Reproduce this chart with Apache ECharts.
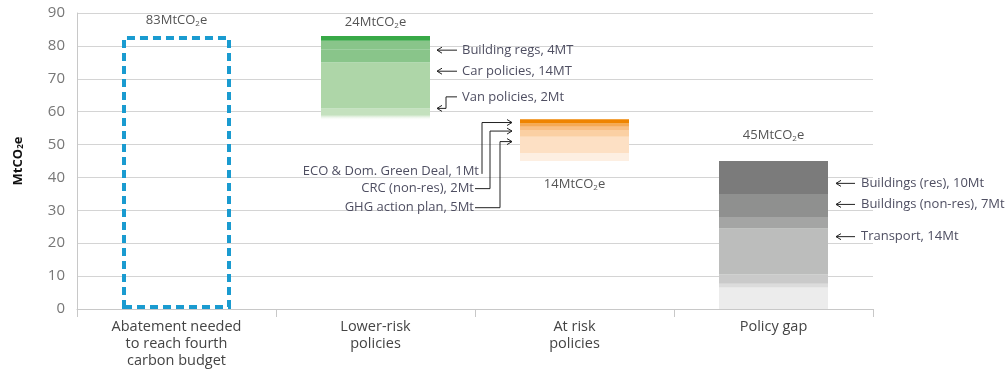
<!DOCTYPE html>
<html>
<head>
<meta charset="utf-8">
<script src="https://cdn.jsdelivr.net/npm/echarts@6/dist/echarts.min.js"></script>
<style>
  html, body { margin: 0; padding: 0; background: #fff; }
  #chart { width: 1008px; height: 370px; }
</style>
</head>
<body>
<div id="chart"></div>
<script>
// Columns along the bottom
const categories = [
  'Abatement needed\nto reach fourth\ncarbon budget',
  'Lower-risk\npolicies',
  'At risk\npolicies',
  'Policy gap'
];

// Value axis (MtCO2e)
const yMin = 0;
const yMax = 90;
const yStep = 10;

// Column totals printed beside each column (MtCO2e)
const totals = [83, 24, 14, 45];

// Abatement needed (outlined column)
const abatementNeeded = 83;

// Lower-risk policies: invisible base, then bands bottom to top
const lowerRiskBase = 57.3;
const lowerRiskBands = [1.7, 2, 14, 4, 2.6, 1.4];

// At-risk policies: invisible base, then bands bottom to top
const atRiskBase = 45;
const atRiskBands = [2.4, 5, 2, 1, 1, 1.3];

// Policy gap bands, bottom to top
const gapBands = [6.5, 1.2, 2.8, 14, 3.5, 7, 10];

// Callouts
const lowerRiskNotes = ['Building regs, 4MT', 'Car policies, 14MT', 'Van policies, 2Mt'];
const lowerRiskArrowAt = [78.7, 72.3, 61.0];
const lowerRiskTextAt = [78.7, 72.3, 64.5];

const atRiskNotes = ['ECO & Dom. Green Deal, 1Mt', 'CRC (non-res), 2Mt', 'GHG action plan, 5Mt'];
const atRiskArrowAt = [56.7, 54.1, 50.9];
const atRiskTextAt = [42.0, 36.6, 30.8];

const gapNotes = ['Buildings (res), 10Mt', 'Buildings (non-res), 7Mt', 'Transport, 14Mt'];
const gapArrowAt = [38.2, 31.8, 22.0];

// ---- styling ----
const FONT = '"Open Sans", "Noto Sans", sans-serif';
const BAR_W = 109;
const NOTE_COLOR = '#4f4f62';
const LINE_COLOR = '#222';

const greenColors = [
  { type: 'linear', x: 0, y: 0, x2: 0, y2: 1,
    colorStops: [{ offset: 0, color: '#c6e2c0' }, { offset: 1, color: 'rgba(255,255,255,0)' }] },
  '#c4e1be', '#aed6a8', '#89c58a', '#89c58a', '#38a947'
];
const orangeColors = ['#fdefe2', '#fde0c4', '#fbd0a3', '#f9bf84', '#f6a954', '#ef8400'];
const greyColors = ['#ececec', '#dcdcdc', '#cacaca', '#bcbdbc', '#a4a5a4', '#8f908f', '#7b7b7b'];

function only(idx, v) {
  const d = ['-', '-', '-', '-'];
  d[idx] = v;
  return d;
}

function totalLabel(v, position, distance) {
  return {
    show: true,
    position: position,
    distance: distance,
    formatter: '{t|' + v + 'MtCO}{s|2}{t|e}',
    rich: {
      t: { fontSize: 13, color: '#555', fontFamily: FONT },
      s: { fontSize: 8, color: '#555', fontFamily: FONT, padding: [7, 0, 0, 0] }
    }
  };
}

function band(idx, v, color, label) {
  const s = {
    type: 'bar',
    stack: 'col',
    barWidth: BAR_W,
    silent: true,
    data: only(idx, v),
    itemStyle: { color: color }
  };
  if (label) s.label = label;
  return s;
}

const series = [];

// Outlined column
series.push({
  type: 'bar',
  stack: 'col',
  barWidth: BAR_W,
  silent: true,
  data: only(0, abatementNeeded),
  itemStyle: {
    color: 'rgba(0,0,0,0)',
    borderColor: '#1a9bd0',
    borderWidth: 4,
    borderType: [8, 5]
  },
  label: totalLabel(totals[0], 'top', 8)
});

// Lower-risk column
series.push(band(1, lowerRiskBase, 'rgba(0,0,0,0)'));
lowerRiskBands.forEach((v, i) => {
  const last = i === lowerRiskBands.length - 1;
  series.push(band(1, v, greenColors[i], last ? totalLabel(totals[1], 'top', 6) : null));
});

// At-risk column
atRiskBands.forEach((v, i) => {
  if (i === 0) series.push(band(2, atRiskBase, 'rgba(0,0,0,0)'));
  series.push(band(2, v, orangeColors[i], i === 0 ? totalLabel(totals[2], 'bottom', 16) : null));
});

// Policy gap column
gapBands.forEach((v, i) => {
  const last = i === gapBands.length - 1;
  series.push(band(3, v, greyColors[i], last ? totalLabel(totals[3], 'top', 18) : null));
});

const chart = echarts.init(document.getElementById('chart'), null, { renderer: 'canvas' });

chart.setOption({
  animation: false,
  backgroundColor: '#fff',
  grid: { left: 77, right: 135, top: 13, bottom: 61 },
  xAxis: {
    type: 'category',
    data: categories,
    boundaryGap: true,
    axisLine: { lineStyle: { color: '#c8c8c8', width: 1 } },
    axisTick: { show: true, length: 8, lineStyle: { color: '#c8c8c8' } },
    axisLabel: {
      color: '#444', fontSize: 14.5, lineHeight: 17, margin: 9, fontFamily: FONT
    }
  },
  yAxis: {
    type: 'value',
    min: yMin,
    max: yMax,
    interval: yStep,
    name: '{t|MtCO}{s|2}{t|e}',
    nameLocation: 'middle',
    nameGap: 52,
    nameRotate: 90,
    nameTextStyle: {
      rich: {
        t: { fontSize: 13, fontWeight: 'bold', color: '#111', fontFamily: FONT },
        s: { fontSize: 8, fontWeight: 'bold', color: '#111', fontFamily: FONT, padding: [6, 0, 0, 0] }
      }
    },
    axisLine: { show: true, lineStyle: { color: '#c8c8c8' } },
    axisTick: { show: false },
    axisLabel: { color: '#777', fontSize: 15, margin: 12, fontFamily: FONT },
    splitLine: { lineStyle: { color: '#d4d4d4', width: 1 } }
  },
  series: series
});

// ---- callout arrows and text ----
function px(idx, v) {
  return chart.convertToPixel({ xAxisIndex: 0, yAxisIndex: 0 }, [idx, v]);
}
function arrowHead(x, y) {
  return {
    type: 'polyline', silent: true,
    shape: { points: [[x + 5, y - 3], [x, y], [x + 5, y + 3]] },
    style: { stroke: LINE_COLOR, lineWidth: 1, fill: null }
  };
}
function rightArrowHead(x, y) {
  return {
    type: 'polyline', silent: true,
    shape: { points: [[x - 5, y - 3], [x, y], [x - 5, y + 3]] },
    style: { stroke: LINE_COLOR, lineWidth: 1, fill: null }
  };
}
function line(points) {
  return {
    type: 'polyline', silent: true,
    shape: { points: points },
    style: { stroke: LINE_COLOR, lineWidth: 1, fill: null }
  };
}
function note(text, x, y, align) {
  return {
    type: 'text', silent: true,
    style: {
      text: text, x: x, y: y, align: align || 'left', verticalAlign: 'middle',
      fill: NOTE_COLOR, fontSize: 13, fontFamily: FONT
    }
  };
}

const g = [];

// Lower-risk callouts (to the right of the green column)
const lrRight = px(1, 0)[0] + BAR_W / 2;
lowerRiskNotes.forEach((t, i) => {
  const ya = px(1, lowerRiskArrowAt[i])[1];
  const yt = px(1, lowerRiskTextAt[i])[1];
  const tip = lrRight + 7;
  if (ya === yt) {
    g.push(line([[tip, ya], [tip + 20, ya]]));
  } else {
    g.push(line([[tip, ya], [tip + 9, ya], [tip + 9, yt], [tip + 20, yt]]));
  }
  g.push(arrowHead(tip, ya));
  g.push(note(t, tip + 25, yt));
});

// At-risk callouts (to the left of the orange column)
const arLeft = px(2, 0)[0] - BAR_W / 2;
const arElbow = [38, 30, 20];
const arTextEnd = [arLeft - 41, arLeft - 45, arLeft - 45];
atRiskNotes.forEach((t, i) => {
  const ya = px(2, atRiskArrowAt[i])[1];
  const yt = px(2, atRiskTextAt[i])[1];
  const tip = arLeft - 8;
  const ex = arLeft - arElbow[i];
  if (i === 0) {
    g.push(line([[ex, yt + 3], [ex, ya], [tip, ya]]));
  } else {
    g.push(line([[arTextEnd[i], yt], [ex, yt], [ex, ya], [tip, ya]]));
  }
  g.push(rightArrowHead(tip, ya));
  g.push(note(t, arTextEnd[i] - (i === 0 ? 0 : 1), yt, 'right'));
});

// Policy-gap callouts (to the right of the grey column)
const pgRight = px(3, 0)[0] + BAR_W / 2;
gapNotes.forEach((t, i) => {
  const ya = px(3, gapArrowAt[i])[1];
  const tip = pgRight + 8;
  g.push(line([[tip, ya], [tip + 19, ya]]));
  g.push(arrowHead(tip, ya));
  g.push(note(t, tip + 25, ya));
});

chart.setOption({ graphic: g });
</script>
</body>
</html>
